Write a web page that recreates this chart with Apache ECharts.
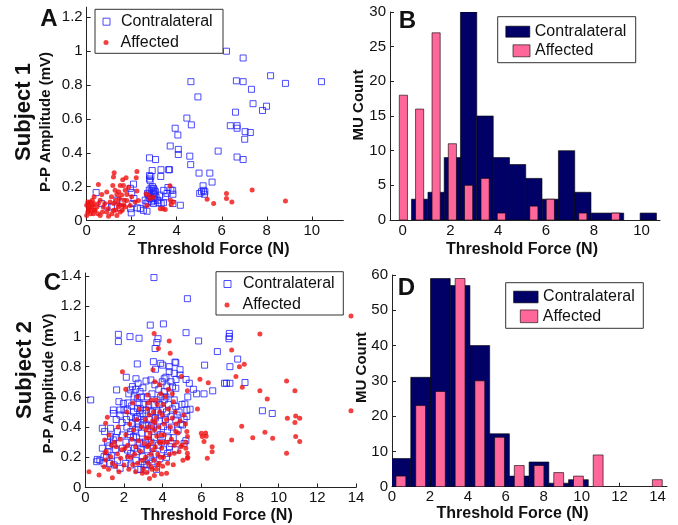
<!DOCTYPE html>
<html><head><meta charset="utf-8">
<script src="https://cdn.jsdelivr.net/npm/echarts@6/dist/echarts.min.js"></script>
<style>html,body{margin:0;padding:0;background:#fff}#c{width:678px;height:525px}</style>
</head><body><div id="c"></div><script>
// ---------------- DATA ----------------
// Panel A (Subject 1 scatter): [threshold force (N), P-P amplitude (mV)]
const A_contra = [
[0.42,0.165],[0.66,0.10],[0.90,0.085],
[1.10,0.08],[1.34,0.12],[1.49,0.075],[1.60,0.11],
[1.94,0.19],[1.95,0.07],[1.98,0.045],[2.05,0.10],[2.08,0.215],[2.00,0.165],[2.25,0.075],[2.38,0.07],[2.10,0.13],
[2.52,0.06],[2.64,0.10],[2.68,0.055],[2.72,0.11],[2.79,0.37],[2.79,0.265],[2.79,0.245],[2.82,0.235],[2.85,0.26],[2.91,0.295],
[2.86,0.19],[2.90,0.175],[2.95,0.16],[2.97,0.10],[2.97,0.19],[3.00,0.12],[3.06,0.36],[3.05,0.17],[3.08,0.14],[2.75,0.15],
[2.80,0.13],[2.85,0.14],[2.92,0.20],[3.00,0.18],[2.60,0.12],[2.70,0.16],[2.88,0.11],[3.02,0.15],[2.95,0.13],[2.78,0.18],
[3.20,0.105],[3.30,0.30],[3.29,0.26],[3.31,0.10],[3.42,0.178],[3.41,0.105],[3.57,0.16],[3.64,0.30],[3.68,0.30],[3.61,0.195],
[3.71,0.44],[3.74,0.18],[3.25,0.15],[3.50,0.14],[3.15,0.12],
[3.83,0.155],[3.82,0.178],[3.83,0.10],[3.93,0.545],[4.05,0.505],[4.07,0.42],[4.07,0.39],[4.16,0.09],[4.45,0.605],
[4.58,0.38],[4.62,0.33],[4.63,0.82],[4.65,0.565],[4.94,0.73],[4.99,0.28],[5.02,0.16],[5.10,0.17],
[5.19,0.178],[5.23,0.155],[5.17,0.205],[5.47,0.28],[5.57,0.227],[5.25,0.17],
[5.84,0.41],[6.21,1.00],[6.38,0.56],
[6.61,0.64],[6.65,0.825],[6.68,0.56],[6.68,0.545],[6.68,0.375],[6.95,0.96],[6.95,0.82],[6.95,0.36],[7.04,0.525],[7.02,0.48],
[7.27,0.52],[7.32,0.775],[7.39,0.69],[7.81,0.65],
[7.99,0.675],[8.17,0.855],[8.83,0.81],[10.43,0.82]
];
const A_affected = [
[0.00,0.09],[0.08,0.07],[0.22,0.08],[0.33,0.14],[0.15,0.11],[0.30,0.04],[0.00,0.03],[0.05,0.05],[0.10,0.10],[0.20,0.06],
[0.25,0.12],[0.12,0.08],[0.35,0.06],[0.28,0.09],[0.05,0.11],[0.18,0.04],[0.32,0.10],[0.10,0.06],
[0.52,0.213],[0.67,0.154],[0.37,0.06],[0.52,0.10],[0.60,0.03],[0.74,0.08],[0.89,0.168],[0.89,0.05],[0.97,0.025],[1.04,0.11],
[0.45,0.08],[0.60,0.12],[0.80,0.10],[0.95,0.07],[0.70,0.05],[0.50,0.04],
[1.22,0.282],[1.19,0.257],[1.16,0.207],[1.49,0.207],[1.63,0.207],[1.26,0.178],[1.34,0.154],[1.71,0.178],[1.19,0.06],[1.41,0.08],
[1.49,0.05],[1.63,0.09],[1.34,0.03],[1.10,0.14],[1.30,0.12],[1.45,0.13],[1.55,0.15],[1.65,0.12],[1.20,0.10],[1.38,0.10],
[1.50,0.09],[1.58,0.06],[1.70,0.08],[1.12,0.04],[1.28,0.06],[1.42,0.17],[1.60,0.24],
[1.75,0.252],[1.86,0.197],[1.78,0.154],[1.78,0.118],[1.93,0.089],[2.15,0.109],[2.23,0.29],[2.20,0.252],[2.23,0.174],[2.30,0.118],[2.00,0.14],
[2.64,0.158],[2.75,0.148],[2.82,0.128],[2.67,0.089],[2.97,0.138],
[3.27,0.07],[3.39,0.07],[3.49,0.065],[3.70,0.205],[3.72,0.12],[3.75,0.095],
[3.85,0.11],[5.35,0.125],[5.64,0.10],[6.21,0.16],[6.21,0.13],[6.45,0.11],[7.35,0.18],[8.83,0.115]
];
// Panel C (Subject 2 scatter)
const C_contra = [
[0.28,0.58],[0.59,0.171],[0.62,0.186],[0.88,0.26],[0.88,0.392],[0.97,0.204],[0.97,0.16],[0.75,0.18],
[1.00,0.37],[1.17,0.237],[1.23,0.275],[1.31,0.392],[1.45,0.513],[1.45,0.49],[1.45,0.315],[1.45,0.288],[1.49,0.149],[1.57,0.252],
[1.62,0.646],[1.66,0.37],[1.66,0.177],[1.71,1.014],[1.71,0.966],[1.74,0.568],[1.80,0.513],[1.80,0.48],[1.80,0.127],[1.92,0.348],
[1.92,0.26],[1.97,0.557],[2.00,0.513],[1.10,0.20],[1.25,0.16],[1.35,0.21],[1.55,0.33],[1.60,0.45],[1.30,0.34],[1.90,0.43],[1.15,0.30],
[2.09,0.16],[2.12,0.73],[2.18,0.513],[2.18,0.248],[2.31,0.999],[2.35,0.646],[2.35,0.469],[2.35,0.37],[2.35,0.226],[2.35,0.149],
[2.44,0.668],[2.44,0.425],[2.49,0.337],[2.60,0.65],[2.60,0.458],[2.69,0.818],[2.69,0.59],[2.69,0.524],[2.69,0.425],[2.69,0.237],
[2.73,0.69],[2.78,0.988],[2.83,0.635],[2.83,0.469],[2.87,0.12],[2.95,0.414],[2.95,0.204],[2.95,0.171],[3.04,0.447],
[2.10,0.30],[2.15,0.40],[2.20,0.56],[2.25,0.62],[2.28,0.20],[2.40,0.54],[2.42,0.30],[2.50,0.50],[2.52,0.60],[2.55,0.26],
[2.58,0.38],[2.62,0.18],[2.65,0.33],[2.70,0.47],[2.72,0.12],[2.75,0.40],[2.78,0.56],[2.80,0.30],[2.85,0.52],[2.88,0.25],
[2.90,0.60],[2.92,0.36],[2.95,0.49],[3.00,0.29],[3.02,0.55],[3.05,0.15],[2.13,0.45],[2.30,0.35],[2.62,0.72],[2.98,0.66],
[3.13,0.513],[3.13,0.116],[3.14,0.705],[3.30,0.182],[3.36,1.075],[3.39,0.712],[3.39,0.502],[3.42,0.407],[3.52,0.833],[3.55,1.39],
[3.61,0.92],[3.63,0.783],[3.70,0.96],[3.76,0.985],[3.90,0.822],[4.04,1.083],[4.05,0.403],[4.08,0.72],[4.08,0.635],[4.08,0.58],[4.00,0.81],
[3.10,0.30],[3.15,0.42],[3.20,0.60],[3.20,0.25],[3.25,0.35],[3.28,0.55],[3.30,0.45],[3.35,0.20],[3.40,0.30],[3.45,0.62],
[3.48,0.50],[3.50,0.26],[3.52,0.40],[3.55,0.55],[3.58,0.33],[3.60,0.68],[3.62,0.46],[3.65,0.22],[3.70,0.58],[3.72,0.38],
[3.75,0.50],[3.78,0.28],[3.80,0.65],[3.82,0.44],[3.85,0.55],[3.88,0.35],[3.90,0.60],[3.92,0.48],[3.95,0.30],[3.98,0.70],
[4.00,0.52],[4.05,0.25],[3.18,0.15],[3.45,0.17],[3.68,0.12],[3.85,0.19],
[4.17,0.60],[4.22,0.672],[4.34,0.80],[4.34,0.767],[4.43,0.70],[4.51,0.667],[4.60,0.756],[4.64,0.83],[4.68,0.826],[4.68,0.657],
[4.69,0.715],[4.90,0.745],[4.90,0.78],[4.43,0.469],[4.68,0.447],[4.68,0.535],[5.11,0.452],[5.03,0.414],[4.43,0.292],[4.26,0.226],
[5.11,0.292],[4.17,0.73],[4.20,0.50],[4.25,0.38],[4.30,0.55],[4.35,0.27],[4.40,0.62],[4.45,0.40],[4.50,0.52],[4.55,0.33],
[4.60,0.58],[4.65,0.25],[4.75,0.48],[4.80,0.38],[4.85,0.50],[4.95,0.42],[5.00,0.55],[4.20,0.20],[4.30,0.33],[4.15,0.45],
[5.28,1.25],[5.21,1.025],[5.86,0.97],[5.21,0.715],[5.38,0.69],[5.59,0.65],[5.76,0.62],[6.14,0.62],[6.17,0.81],[5.15,0.553],
[5.42,0.518],[5.25,0.513],[5.20,0.31],[5.25,0.47],[5.30,0.60],
[6.59,0.64],[6.83,0.90],[7.20,0.69],
[7.45,1.02],[7.45,1.00],[7.43,0.985],[7.88,0.85],[7.48,0.80],[7.48,0.69],[7.30,0.69],
[8.26,0.695],[9.16,0.508],[9.67,0.49]
];
const C_affected = [
[0.19,0.105],[0.71,0.083],[0.97,0.138],
[1.05,0.425],[1.14,0.465],[1.23,0.348],[1.05,0.182],[1.31,0.204],[1.40,0.16],[1.40,0.065],[1.66,0.221],[1.74,0.105],[1.83,0.193],
[1.92,0.767],[2.00,0.149],[1.00,0.315],[1.02,0.23],[1.08,0.24],[1.20,0.12],[1.50,0.30],[1.55,0.14],[1.60,0.27],[1.70,0.40],
[1.80,0.32],[1.90,0.25],[1.35,0.28],
[2.09,0.65],[2.18,0.204],[2.60,0.27],[2.60,0.105],[2.69,0.60],[2.95,0.094],[3.04,0.292],[2.10,0.35],[2.15,0.50],[2.20,0.28],
[2.25,0.12],[2.30,0.42],[2.35,0.20],[2.40,0.32],[2.45,0.15],[2.50,0.38],[2.55,0.22],[2.65,0.45],[2.70,0.16],[2.75,0.31],
[2.80,0.52],[2.85,0.24],[2.90,0.40],[2.95,0.18],[3.00,0.12],[2.05,0.26],[2.45,0.56],
[3.21,0.612],[3.21,0.27],[3.39,0.138],[3.56,1.02],[3.82,0.16],[4.08,0.348],[3.10,0.45],[3.12,0.20],[3.15,0.33],[3.18,0.10],
[3.20,0.52],[3.22,0.40],[3.25,0.16],[3.28,0.28],[3.30,0.48],[3.32,0.06],[3.35,0.36],[3.38,0.22],[3.40,0.58],[3.42,0.30],
[3.45,0.12],[3.48,0.44],[3.50,0.25],[3.52,0.50],[3.55,0.18],[3.58,0.38],[3.60,0.70],[3.62,0.27],[3.65,0.46],[3.68,0.12],
[3.70,0.34],[3.72,0.55],[3.75,0.22],[3.78,0.92],[3.80,0.40],[3.82,0.30],[3.85,0.50],[3.88,0.20],[3.90,0.62],[3.92,0.35],
[3.95,0.26],[3.98,0.48],[4.00,0.14],[4.02,0.55],[4.05,0.30],[4.08,0.42],[3.14,0.38],[3.26,0.56],[3.44,0.40],[3.57,0.08],
[3.66,0.58],[3.74,0.15],[3.86,0.68],[3.94,0.09],[4.04,0.20],[3.30,0.33],[3.60,0.43],[3.90,0.30],[3.50,0.78],
[4.34,0.97],[4.39,0.889],[4.97,0.734],[4.56,0.568],[4.68,0.37],[4.94,0.27],[4.85,0.237],[4.60,0.226],[4.20,0.094],[4.26,0.16],
[5.11,0.48],[4.15,0.60],[4.20,0.45],[4.25,0.30],[4.30,0.52],[4.35,0.22],[4.40,0.40],[4.45,0.32],[4.50,0.46],[4.55,0.15],
[4.60,0.28],[4.65,0.50],[4.70,0.42],[4.75,0.30],[4.80,0.36],[4.90,0.44],[5.00,0.28],[5.05,0.18],[4.30,0.65],[4.50,0.62],
[5.28,0.64],[5.25,0.37],[5.28,0.337],[5.28,0.226],[5.28,0.193],[5.80,0.52],[5.93,0.716],[6.00,0.359],[6.05,0.337],[6.14,0.304],
[5.20,0.30],[5.20,0.26],[5.30,0.20],[5.18,0.42],
[6.36,0.694],[6.56,0.27],[6.56,0.237],[6.31,0.193],[6.22,0.36],[6.25,0.34],
[7.57,0.91],[7.97,0.80],[8.22,0.816],[7.79,0.734],[8.12,0.663],[8.09,0.405],[7.57,0.315],
[9.03,1.017],[9.03,0.641],[8.66,0.33],[9.29,0.365],[9.41,0.586],[9.69,0.326],
[10.41,0.705],[10.84,0.641],[10.45,0.458],[10.88,0.473],[11.09,0.458],[10.84,0.431],[10.88,0.337],[11.09,0.304],[10.41,0.226],
[13.74,1.136],[13.74,0.508]
];
// Panel B histogram (Subject 1): bin centres (N) and MU counts
const B_centers = [0.03,0.71,1.40,2.08,2.76,3.45,4.13,4.81,5.49,6.18,6.86,7.54,8.23,8.91,9.59,10.28];
const B_contraCounts = [0,3,4,9,30,15,9,8,6,3,10,4,1,1,0,1];
const B_affCounts    = [18,16,27,11,5,6,1,0,2,3,0,1,0,1,0,0];
// Panel D histogram (Subject 2)
const D_centers = [0.47,1.51,2.55,3.59,4.63,5.67,6.71,7.75,8.79,9.83,10.87,11.91,12.95,13.99];
const D_contraCounts = [8,31,59,57,40,15,3,7,1,2,0,0,0,0];
const D_affCounts    = [3,23,27,59,30,14,6,6,4,3,9,0,0,2];
// Tick labels
const A_xTicks = [0,2,4,6,8,10];
const A_yTicks = [0,0.2,0.4,0.6,0.8,1,1.2];
const B_xTicks = [0,2,4,6,8,10];
const B_yTicks = [0,5,10,15,20,25,30];
const C_xTicks = [0,2,4,6,8,10,12,14];
const C_yTicks = [0,0.2,0.4,0.6,0.8,1,1.2,1.4];
const D_xTicks = [0,2,4,6,8,10,12,14];
const D_yTicks = [0,10,20,30,40,50,60];
const seriesNames = ['Contralateral','Affected'];

// ---------------- STYLE ----------------
const FONT = '"Liberation Sans", Arial, Helvetica, sans-serif';
const BLUE = '#1f1fff', RED = '#f01010', NAVY = '#000066', PINK = '#ff6699';
const B_binW = 0.683, D_binW = 1.04;

function fmt(v){ return String(Math.round(v*10)/10); }
function axis(gridIndex, min, max, ticks, isY){
  return {
    type:'value', gridIndex, min, max,
    axisLine:{show:true, onZero:false, lineStyle:{color:'#222', width:1}},
    axisTick:{show:true, inside:true, length:4, customValues:ticks, lineStyle:{color:'#222', width:1}},
    axisLabel:{customValues:ticks, fontSize:15, color:'#111', fontFamily:FONT, margin:isY?4:3, formatter:fmt},
    splitLine:{show:false}
  };
}
function histSeries(name, xi, centers, counts, width, color, z){
  return {
    type:'custom', name, xAxisIndex:xi, yAxisIndex:xi, clip:true, z, silent:true,
    itemStyle:{color, borderColor:'#000', borderWidth:0.6, opacity:1},
    data: centers.map((c,i)=>[c, counts[i]]),
    renderItem:(params, api)=>{
      const x = api.value(0), y = api.value(1);
      if (!y) return {type:'group', children:[]};
      const p0 = api.coord([x - width/2, y]);
      const p1 = api.coord([x + width/2, 0]);
      return {type:'rect', shape:{x:p0[0], y:p0[1], width:p1[0]-p0[0], height:p1[1]-p0[1]},
              style:{fill:color, stroke:'#000', lineWidth:0.6}};
    }
  };
}
function scatterPair(xi, contra, aff){
  return [
    {type:'scatter', name:seriesNames[0], xAxisIndex:xi, yAxisIndex:xi, data:contra, symbol:'rect', symbolSize:6,
     itemStyle:{color:'rgba(0,0,0,0)', borderColor:BLUE, borderWidth:1}, silent:true, z:2},
    {type:'scatter', name:seriesNames[1], xAxisIndex:xi, yAxisIndex:xi, data:aff, symbol:'circle', symbolSize:5,
     itemStyle:{color:RED}, silent:true, z:3}
  ];
}
const legTS = (pad)=>({fontSize:16, color:'#111', fontFamily:FONT, lineHeight:18, padding:[0,0,0,pad]});
function leg(name, left, top, w, h, pad, icon, style){
  return {left, top, padding:0, itemWidth:w, itemHeight:h, selectedMode:false, orient:'vertical',
          data:[{name, icon, itemStyle:style}], textStyle:legTS(pad)};
}
const hollowBlue = {color:'rgba(0,0,0,0)', borderColor:BLUE, borderWidth:1};
const redDot = {color:RED, borderWidth:0};
const navyPatch = {color:NAVY, borderColor:'#000', borderWidth:0.6, opacity:1};
const pinkPatch = {color:PINK, borderColor:'#000', borderWidth:0.6, opacity:1};

function txt(x, y, text, size, rot){
  return {type:'text', x, y, rotation:rot||0, silent:true,
          style:{text, fontSize:size, fontWeight:'bold', fontFamily:FONT, fill:'#111', textAlign:'center', textVerticalAlign:'middle'}};
}
function box(x, y, w, h){
  return {type:'rect', silent:true, shape:{x, y, width:w, height:h}, style:{fill:'none', stroke:'#333', lineWidth:1}};
}
const R = Math.PI/2;

const option = {
  animation:false,
  backgroundColor:'#fff',
  grid:[
    {left:86.7, top:7.2, width:256.6, height:213.3},
    {left:390, top:12, width:270, height:208},
    {left:85.3, top:273, width:270.7, height:214.5},
    {left:392, top:275, width:275, height:211.7}
  ],
  xAxis:[
    axis(0, 0, 11.4, A_xTicks, false),
    axis(1, -0.53, 10.77, B_xTicks, false),
    axis(2, 0, 14, C_xTicks, false),
    axis(3, 0, 14.5, D_xTicks, false)
  ],
  yAxis:[
    axis(0, 0, 1.26, A_yTicks, true),
    axis(1, 0, 30, B_yTicks, true),
    axis(2, 0, 1.42, C_yTicks, true),
    axis(3, 0, 60, D_yTicks, true)
  ],
  legend:[
    leg('Contralateral', 102.5, 12.7, 7, 7, 6, 'rect', hollowBlue),
    leg('Affected', 103.5, 33.5, 5, 5, 7, 'circle', redDot),
    leg('Contralateral', 505.5, 22.7, 24, 11, 0, 'rect', navyPatch),
    leg('Affected', 512.7, 41.8, 17, 12, 0, 'rect', pinkPatch),
    leg('Contralateral', 223.5, 275, 7, 7, 7, 'rect', hollowBlue),
    leg('Affected', 224.5, 296, 5, 5, 8, 'circle', redDot),
    leg('Contralateral', 513.3, 288, 24.5, 11.7, 0, 'rect', navyPatch),
    leg('Affected', 520, 307.3, 17.5, 12.7, 0, 'rect', pinkPatch)
  ],
  graphic:{elements:[
    box(95, 9.3, 128, 44), box(497.7, 16.7, 138, 46), box(216, 271.7, 127.3, 43.3), box(505.7, 282.7, 137.6, 45.6),
    txt(49, 19, 'A', 24), txt(407.5, 21, 'B', 24), txt(52.5, 283, 'C', 24), txt(406.5, 288, 'D', 24),
    txt(24, 112, 'Subject 1', 22, R), txt(25, 370, 'Subject 2', 22, R),
    txt(46, 122, 'P-P Amplitude (mV)', 15, R), txt(49, 383.5, 'P-P Amplitude (mV)', 15, R),
    txt(359, 105, 'MU Count', 15, R), txt(362, 367.5, 'MU Count', 15, R),
    txt(213.5, 249.5, 'Threshold Force (N)', 16), txt(522, 249.5, 'Threshold Force (N)', 16),
    txt(216.7, 515.5, 'Threshold Force (N)', 16), txt(512.5, 514, 'Threshold Force (N)', 16)
  ]},
  series:[
    ...scatterPair(0, A_contra, A_affected),
    histSeries(seriesNames[0], 1, B_centers, B_contraCounts, B_binW, NAVY, 2),
    histSeries(seriesNames[1], 1, B_centers, B_affCounts, B_binW/2, PINK, 3),
    ...scatterPair(2, C_contra, C_affected),
    histSeries(seriesNames[0], 3, D_centers, D_contraCounts, D_binW, NAVY, 2),
    histSeries(seriesNames[1], 3, D_centers, D_affCounts, D_binW/2, PINK, 3)
  ]
};
const chart = echarts.init(document.getElementById('c'), null, {renderer:'canvas'});
chart.setOption(option);
</script></body></html>
